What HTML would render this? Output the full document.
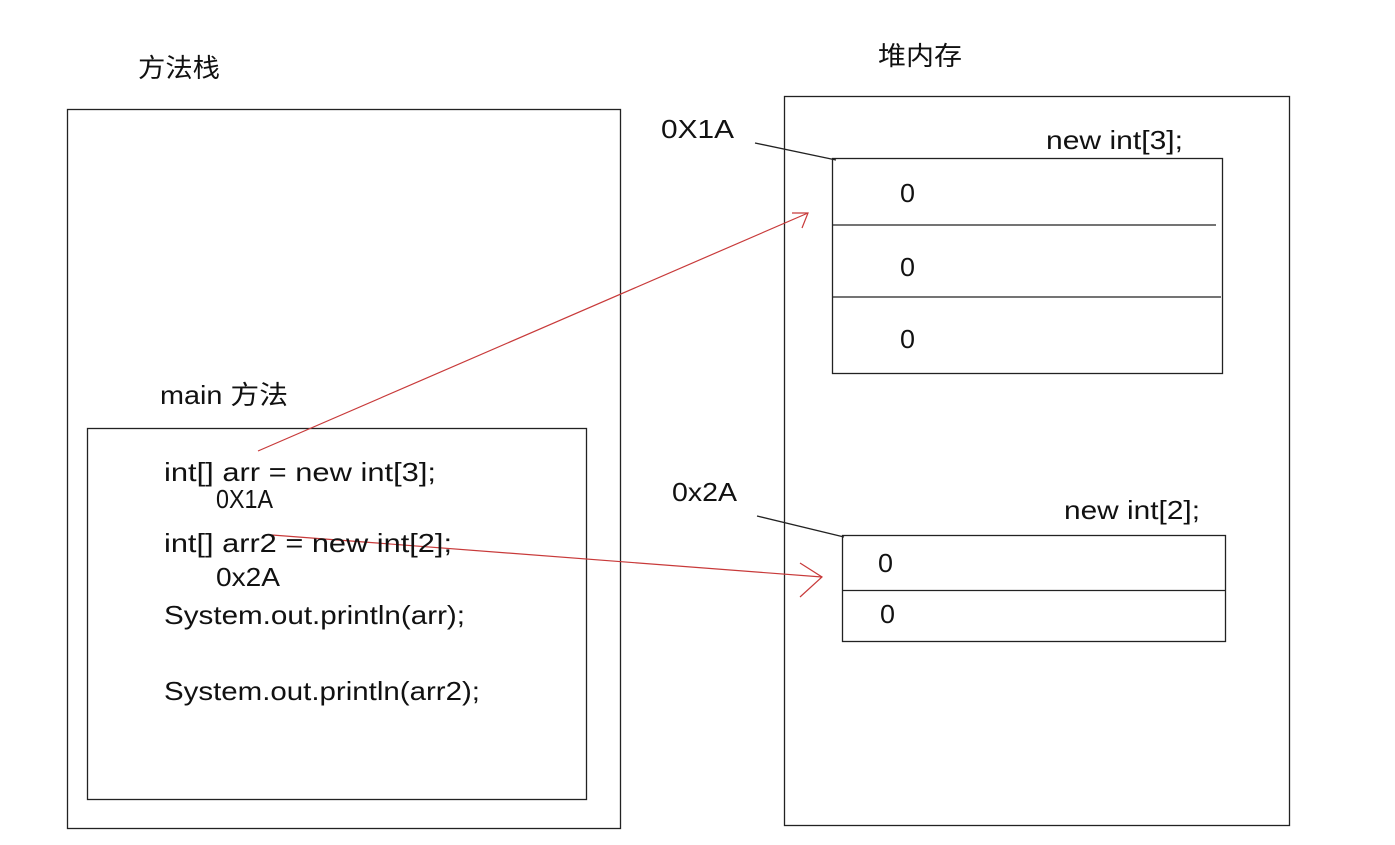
<!DOCTYPE html>
<html><head><meta charset="utf-8"><style>
html,body{margin:0;padding:0;background:#fff;}
svg{display:block;}
text{font-family:"Liberation Sans","Noto Sans CJK SC",sans-serif;fill:#111;}
</style></head><body>
<svg width="1395" height="845" viewBox="0 0 1395 845" xmlns="http://www.w3.org/2000/svg">
<rect width="1395" height="845" fill="#fff"/>
<g fill="none" stroke="#222" stroke-width="1.3">
<rect x="67.5" y="109.5" width="553" height="719"/>
<rect x="87.5" y="428.5" width="499" height="371"/>
<rect x="784.5" y="96.5" width="505" height="729"/>
<rect x="832.5" y="158.5" width="390" height="215"/>
<line x1="833" y1="225" x2="1216" y2="225"/>
<line x1="833" y1="297" x2="1221" y2="297"/>
<rect x="842.5" y="535.5" width="383" height="106"/>
<line x1="843" y1="590.5" x2="1225" y2="590.5"/>
<line x1="755" y1="143" x2="836" y2="160"/>
<line x1="757" y1="516" x2="844" y2="537"/>
</g>
<g fill="none" stroke="#c83a3a" stroke-width="1.2">
<line x1="258" y1="451" x2="808" y2="213"/>
<polyline points="792,213 808,213 802,228"/>
<line x1="272" y1="535" x2="822" y2="577"/>
<polyline points="800,563 822,577 800,597"/>
</g>
<g font-size="26">
<text x="138" y="77" textLength="82" lengthAdjust="spacingAndGlyphs">方法栈</text>
<text x="878" y="65" textLength="84" lengthAdjust="spacingAndGlyphs">堆内存</text>
<text x="661" y="138" textLength="73" lengthAdjust="spacingAndGlyphs">0X1A</text>
<text x="1046" y="149" textLength="137" lengthAdjust="spacingAndGlyphs">new int[3];</text>
<text x="900" y="202" textLength="15" lengthAdjust="spacingAndGlyphs">0</text>
<text x="900" y="276" textLength="15" lengthAdjust="spacingAndGlyphs">0</text>
<text x="900" y="348" textLength="15" lengthAdjust="spacingAndGlyphs">0</text>
<text x="160" y="404" textLength="128" lengthAdjust="spacingAndGlyphs">main 方法</text>
<text x="164" y="481" textLength="272" lengthAdjust="spacingAndGlyphs">int[] arr = new int[3];</text>
<text x="216" y="508" textLength="57" lengthAdjust="spacingAndGlyphs">0X1A</text>
<text x="164" y="552" textLength="288" lengthAdjust="spacingAndGlyphs">int[] arr2 = new int[2];</text>
<text x="216" y="586" textLength="64" lengthAdjust="spacingAndGlyphs">0x2A</text>
<text x="164" y="624" textLength="301" lengthAdjust="spacingAndGlyphs">System.out.println(arr);</text>
<text x="164" y="700" textLength="316" lengthAdjust="spacingAndGlyphs">System.out.println(arr2);</text>
<text x="672" y="501" textLength="65" lengthAdjust="spacingAndGlyphs">0x2A</text>
<text x="1064" y="519" textLength="136" lengthAdjust="spacingAndGlyphs">new int[2];</text>
<text x="878" y="572" textLength="15" lengthAdjust="spacingAndGlyphs">0</text>
<text x="880" y="623" textLength="15" lengthAdjust="spacingAndGlyphs">0</text>
</g>
</svg>
</body></html>
